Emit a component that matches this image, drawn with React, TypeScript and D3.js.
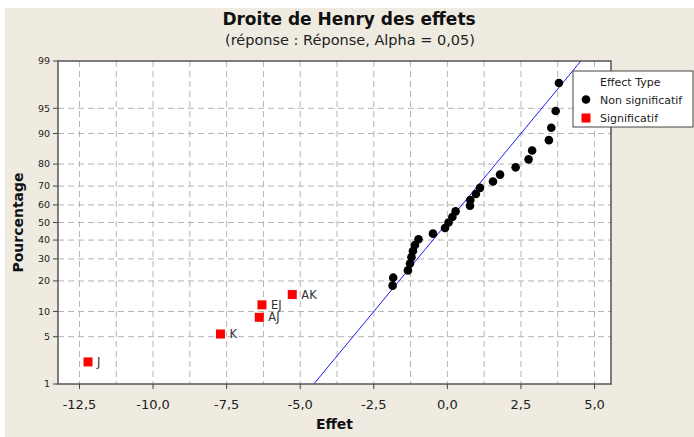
import * as d3 from 'd3';

// Effects, sorted by rank (Minitab normal plot of effects)
const sigTerms = ['J', 'K', 'AJ', 'EJ', 'AK'];
const sigEffects = [-12.21, -7.71, -6.39, -6.3, -5.27];
const sigPercents = [2.23, 5.41, 8.6, 11.78, 14.97];

const nonSigEffects = [
  -1.86, -1.84, -1.34, -1.27, -1.22, -1.17, -1.1, -0.98, -0.49, -0.08, 0.04, 0.17, 0.28,
  0.77, 0.78, 0.97, 1.11, 1.55, 1.79, 2.32, 2.76, 2.88, 3.45, 3.53, 3.68, 3.79,
];
const nonSigPercents = [
  18.15, 21.34, 24.52, 27.71, 30.89, 34.08, 37.26, 40.45, 43.63, 46.82, 50.0, 53.18, 56.37,
  59.55, 62.74, 65.92, 69.11, 72.29, 75.48, 78.66, 81.85, 85.03, 88.22, 91.4, 94.59, 97.77,
];

// fitted line (mean 0, sigma)
const lineMean = 0;
const lineSigma = 1.95;

const yTicks = [1, 5, 10, 20, 30, 40, 50, 60, 70, 80, 90, 95, 99];
const xTicks = [-12.5, -10, -7.5, -5, -2.5, 0, 2.5, 5];
const xGrid = [-12.5, -11.25, -10, -8.75, -7.5, -6.25, -5, -3.75, -2.5, -1.25, 0, 1.25, 2.5, 3.75, 5];

const W = 694;
const H = 437;
const margin = { left: 58, right: 611, top: 61, bottom: 384 };
const FONT = "'DejaVu Sans', Verdana, sans-serif";

// inverse normal cdf (Acklam)
const probit = (p: number): number => {
  const a = [-39.69683028665376, 220.9460984245205, -275.9285104469687, 138.357751867269, -30.66479806614716, 2.506628277459239];
  const b = [-54.47609879822406, 161.5858368580409, -155.6989798598866, 66.80131188771972, -13.28068155288572];
  const c = [-0.007784894002430293, -0.3223964580411365, -2.400758277161838, -2.549732539343734, 4.374664141464968, 2.938163982698783];
  const d = [0.007784695709041462, 0.3224671290700398, 2.445134137142996, 3.754408661907416];
  const pl = 0.02425;
  if (p < pl) {
    const q = Math.sqrt(-2 * Math.log(p));
    return (((((c[0] * q + c[1]) * q + c[2]) * q + c[3]) * q + c[4]) * q + c[5]) /
      ((((d[0] * q + d[1]) * q + d[2]) * q + d[3]) * q + 1);
  }
  if (p > 1 - pl) {
    const q = Math.sqrt(-2 * Math.log(1 - p));
    return -(((((c[0] * q + c[1]) * q + c[2]) * q + c[3]) * q + c[4]) * q + c[5]) /
      ((((d[0] * q + d[1]) * q + d[2]) * q + d[3]) * q + 1);
  }
  const q = p - 0.5;
  const r = q * q;
  return (((((a[0] * r + a[1]) * r + a[2]) * r + a[3]) * r + a[4]) * r + a[5]) * q /
    (((((b[0] * r + b[1]) * r + b[2]) * r + b[3]) * r + b[4]) * r + 1);
};

const fr = d3.formatLocale({ decimal: ',', thousands: ' ', grouping: [3], currency: ['', ' €'], minus: '-' });
const fmtX = fr.format('.1f');

const App = () => {
  const x = d3.scaleLinear().domain([-13.23, 5.56]).range([margin.left, margin.right]);
  const zMax = probit(0.99);
  const yz = d3.scaleLinear().domain([-zMax, zMax]).range([margin.bottom, margin.top]);
  const y = (pct: number) => yz(probit(pct / 100));

  const fitLine = d3.line<number>()
    .x(z => x(lineMean + lineSigma * z))
    .y(z => yz(z));

  return (
    <div style={{ position: 'absolute', left: 0, top: 0 }}>
      <svg width={W} height={H} style={{ display: 'block' }} fontFamily={FONT}>
        <rect x={0} y={0} width={W} height={H} fill="#ffffff" />
        <rect x={5} y={8} width={W - 5} height={H - 8} fill="#efebe1" />

        <text x={349} y={25} textAnchor="middle" fontSize={17} fontWeight="bold" fill="#111">
          Droite de Henry des effets
        </text>
        <text x={350} y={45} textAnchor="middle" fontSize={14.5} fill="#222">
          (réponse : Réponse, Alpha = 0,05)
        </text>

        <defs>
          <clipPath id="plotClip">
            <rect x={margin.left} y={margin.top} width={margin.right - margin.left} height={margin.bottom - margin.top} />
          </clipPath>
        </defs>

        <rect x={margin.left} y={margin.top} width={margin.right - margin.left} height={margin.bottom - margin.top} fill="#ffffff" />

        {/* grid */}
        {xGrid.map(v => (
          <line key={'gx' + v} x1={x(v)} x2={x(v)} y1={margin.top} y2={margin.bottom}
            stroke="#b4b4b4" strokeWidth={1} strokeDasharray="6,4" />
        ))}
        {yTicks.filter(t => t > 1 && t < 99).map(t => (
          <line key={'gy' + t} x1={margin.left} x2={margin.right} y1={y(t)} y2={y(t)}
            stroke="#b4b4b4" strokeWidth={1} strokeDasharray="6,4" />
        ))}

        {/* fitted line */}
        <path d={fitLine([-zMax - 0.2, zMax + 0.2]) || ''} fill="none" stroke="#1a1aff" strokeWidth={1}
          clipPath="url(#plotClip)" />

        {/* non significant effects */}
        {nonSigEffects.map((e, i) => (
          <circle key={'n' + i} cx={x(e)} cy={y(nonSigPercents[i])} r={4.3} fill="#000" />
        ))}

        {/* significant effects */}
        {sigEffects.map((e, i) => (
          <g key={'s' + i}>
            <rect x={x(e) - 4.5} y={y(sigPercents[i]) - 4.5} width={9} height={9} fill="#ff0000" />
            <text x={x(e) + 9} y={y(sigPercents[i]) + 4} fontSize={11.5} fill="#333">{sigTerms[i]}</text>
          </g>
        ))}

        {/* frame */}
        <rect x={margin.left} y={margin.top} width={margin.right - margin.left} height={margin.bottom - margin.top}
          fill="none" stroke="#555" strokeWidth={1.5} />

        {/* y axis */}
        {yTicks.map(t => (
          <g key={'yt' + t}>
            <line x1={margin.left - 5} x2={margin.left} y1={y(t)} y2={y(t)} stroke="#444" />
            <text x={50} y={y(t)} dy="0.35em" textAnchor="end" fontSize={9.5} fill="#222">{t}</text>
          </g>
        ))}
        <text transform={`translate(23,${(margin.top + margin.bottom) / 2}) rotate(-90)`} textAnchor="middle"
          fontSize={14} fontWeight="bold" fill="#111">Pourcentage</text>

        {/* x axis */}
        {xTicks.map(t => (
          <g key={'xt' + t}>
            <line x1={x(t)} x2={x(t)} y1={margin.bottom} y2={margin.bottom + 5} stroke="#444" />
            <text x={x(t)} y={409} textAnchor="middle" fontSize={13} fill="#222">{fmtX(t)}</text>
          </g>
        ))}
        <text x={(margin.left + margin.right) / 2} y={429} textAnchor="middle" fontSize={14} fontWeight="bold" fill="#111">
          Effet
        </text>

        {/* legend */}
        <rect x={573} y={71} width={120} height={56} fill="#ffffff" stroke="#444" strokeWidth={1} />
        <text x={600} y={86} fontSize={11} fill="#222">Effect Type</text>
        <circle cx={586} cy={99.5} r={4.3} fill="#000" />
        <text x={600} y={103.5} fontSize={11} fill="#222">Non significatif</text>
        <rect x={581.5} y={113.5} width={9} height={9} fill="#ff0000" />
        <text x={600} y={122} fontSize={11} fill="#222">Significatif</text>
      </svg>
    </div>
  );
};

export default App;
